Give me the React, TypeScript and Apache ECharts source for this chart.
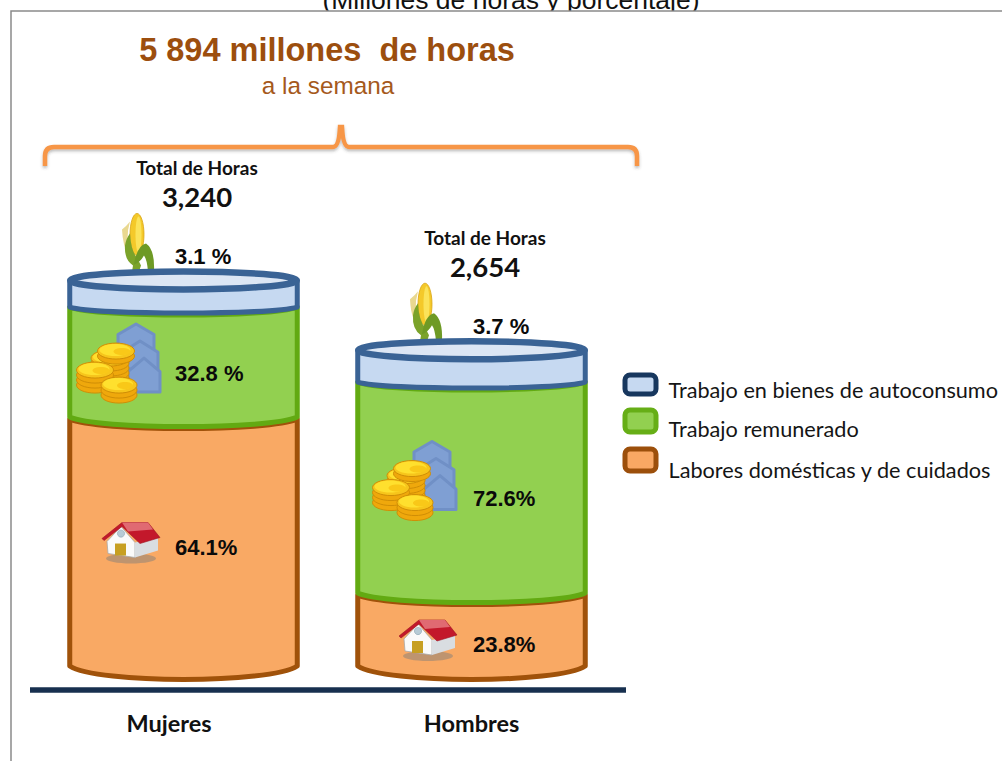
import React, { useEffect, useRef } from "react";
import * as echarts from "echarts";

const categories = ["Mujeres", "Hombres"];
const seriesNames = ["Trabajo en bienes de autoconsumo", "Trabajo remunerado", "Labores domésticas y de cuidados"];
// Heights of the drawn bands (millions of hours on the drawn scale)
const domesticas = [2092, 613];
const remunerado = [924, 1773];
const autoconsumo = [224, 268];
const totals = ["3,240", "2,654"];
const pctDomesticas = ["64.1%", "23.8%"];
const pctRemunerado = ["32.8 %", "72.6%"];
const pctAutoconsumo = ["3.1 %", "3.7 %"];

// Layout offsets for annotations (pixels), not data
const LABEL_DX = [-8.5, 1.5];
const ORANGE_LABEL_DY = [6, 14.5];
const ORANGE_ICON_DY = [0, 9.5];
const ORANGE_ICON_DX = [-52.5, -43.5];
const GREEN_LABEL_DY = [11, 10.5];
const GREEN_ICON_DY = [8, 0];
const GREEN_ICON_DX = [-76.5, -68.5];
const LEGEND_STYLE = [
  { y: 375, h: 19, text: 390, fill: "#C6D9F1", stroke: "#17375E", name: 0 },
  { y: 410, h: 22, text: 429, fill: "#92D050", stroke: "#66AE16", name: 1 },
  { y: 449, h: 22, text: 470, fill: "#F9A864", stroke: "#9C4F0B", name: 2 },
];

const SANS = "'Liberation Sans', Arial, sans-serif";
const LATO = "Lato, 'Open Sans', sans-serif";

const Cmd = echarts.graphic.extendShape({
  type: "cmd",
  shape: { d: "" },
  buildPath(ctx: any, shape: any) {
    const t: string[] = shape.d.match(/[MLCQZ]|-?[\d.]+/g) || [];
    let i = 0;
    const n = () => parseFloat(t[i++]);
    while (i < t.length) {
      const c = t[i++];
      if (c === "M") ctx.moveTo(n(), n());
      else if (c === "L") ctx.lineTo(n(), n());
      else if (c === "Q") { const a = n(), b = n(), e = n(), f = n(); ctx.quadraticCurveTo(a, b, e, f); }
      else if (c === "C") { const a = n(), b = n(), e = n(), f = n(), g = n(), h = n(); ctx.bezierCurveTo(a, b, e, f, g, h); }
      else if (c === "Z") ctx.closePath();
    }
  },
});
echarts.graphic.registerShape("cmd", Cmd);
echarts.graphic.registerShape(
  "bracketShape",
  echarts.graphic.extendPath(
    "M45 166 L45 156 Q45 147 54 147 L333 147 Q339 147 340 127 L342 127 Q343 147 349 147 L628 147 Q637 147 637 156 L637 166",
    {}
  )
);

const arc = (xL: number, xR: number, y: number, d: number) => {
  const w = xR - xL;
  return `C ${xL + 0.12 * w} ${y + 1.33 * d} ${xR - 0.12 * w} ${y + 1.33 * d} ${xR} ${y}`;
};
const arcBack = (xL: number, xR: number, y: number, d: number) => {
  const w = xR - xL;
  return `C ${xR - 0.12 * w} ${y + 1.33 * d} ${xL + 0.12 * w} ${y + 1.33 * d} ${xL} ${y}`;
};

const shape = (d: string, style: any) => ({ type: "cmd", shape: { d }, style });

function coinStack(x: number, y: number, n: number, rx: number, ry: number) {
  const out: any[] = [];
  for (let k = 0; k < n; k++) {
    out.push({
      type: "ellipse",
      shape: { cx: x, cy: y - k * 5, rx, ry },
      style: { fill: k === n - 1 ? "#F7C51B" : "#EFA80C", stroke: "#D08E06", lineWidth: 1 },
    });
  }
  out.push({
    type: "ellipse",
    shape: { cx: x - 1, cy: y - (n - 1) * 5 - 1, rx: rx - 3, ry: ry - 2 },
    style: { fill: "#FFE02E" },
  });
  out.push({
    type: "ellipse",
    shape: { cx: x + 6, cy: y - (n - 1) * 5 + 0.5, rx: rx - 10, ry: ry - 4.5 },
    style: { fill: "#F9C818" },
  });
  return out;
}

function ghostHouse(x: number, y: number, w: number, h: number) {
  const d = `M ${x} ${y} L ${x + w / 2} ${y + h * 0.4} L ${x + w / 2} ${y + h} L ${x - w / 2} ${y + h} L ${x - w / 2} ${y + h * 0.4} Z`;
  return shape(d, { fill: "#7F9FD3", stroke: "#7090C6", lineWidth: 3, lineJoin: "round" });
}

function coinsIcon(x: number, y: number) {
  return {
    type: "group",
    x,
    y,
    children: [
      ghostHouse(29, -46, 36, 26),
      ghostHouse(33, -29, 36, 28),
      ghostHouse(37, -12, 32, 34),
      ...coinStack(3, 8, 5, 19, 8),
      ...coinStack(9, -14, 2, 18.5, 8),
      ...coinStack(-12, 15, 4, 18.5, 8),
      ...coinStack(12, 25, 3, 18, 8),
    ],
  };
}

function houseIcon(x: number, y: number) {
  return {
    type: "group",
    x,
    y,
    children: [
      { type: "ellipse", shape: { cx: 0, cy: 17, rx: 25, ry: 5 }, style: { fill: "#8E8478", opacity: 0.55 } },
      shape("M -24 0 L -10 -15 L 4 1 L 4 16 L -23 12 Z", { fill: "#FAFAFA", stroke: "#A9A9A9", lineWidth: 0.8 }),
      shape("M 4 1 L 27 -4 L 27 9 L 4 16 Z", { fill: "#D9DDE1" }),
      { type: "rect", shape: { x: -16, y: 2, width: 11, height: 12 }, style: { fill: "#C79F22" } },
      { type: "circle", shape: { cx: -10, cy: -8, r: 3.6 }, style: { fill: "#B7CBD6", stroke: "#8CA4B2", lineWidth: 0.6 } },
      shape("M -29 -3 L -9 -19 L 17 -19 L 29 -4 L 9 2 L -9 -15 L -27 -1 Z", { fill: "#C3182B", stroke: "#9E1422", lineWidth: 0.6 }),
      shape("M -9 -19 L 17 -19 L 22 -12 L -3 -10 Z", { fill: "#E06A72" }),
    ],
  };
}

function cornIcon(x: number, y: number) {
  return {
    type: "group",
    x,
    y,
    children: [
      shape("M -15 -42 Q -10 -46 -7 -50 Q -13 -30 -4 -10 Q -14 -20 -15 -42 Z", { fill: "#E9D890" }),
      { type: "ellipse", shape: { cx: 0, cy: -37, rx: 7, ry: 21 }, style: { fill: "#F4C92A", stroke: "#D9A414", lineWidth: 0.8 } },
      { type: "ellipse", shape: { cx: 1.5, cy: -37, rx: 3, ry: 18 }, style: { fill: "#FBE35A" } },
      shape("M -5 0 L -4 -6 Q -13 -12 -12 -26 Q -11 -33 -7 -38 Q -6 -20 0 -14 L 4 -6 L 2 0 Z", { fill: "#7BA32A" }),
      shape("M -3 -7 Q 0 -26 9 -28 Q 18 -22 17 0 L 11 0 Q 10 -12 7 -16 Q 3 -9 -3 -7 Z", { fill: "#6E9A25" }),
    ],
  };
}

function segments(start: number[], end: number[]) {
  return categories.map((_, i) => [i, start[i], end[i]]);
}
const sum = (a: number[], b: number[]) => a.map((v, i) => v + b[i]);
const zeros = categories.map(() => 0);
const domTop = domesticas;
const remTop = sum(domTop, remunerado);
const capTop = sum(remTop, autoconsumo);

const WIDTH_RATIO = 0.79;
const ST = 5;
function bounds(params: any, api: any) {
  const i = api.value(0);
  const p0 = api.coord([i, api.value(1)]);
  const p1 = api.coord([i, api.value(2)]);
  const w = api.size([1, 0])[0] * WIDTH_RATIO;
  return { i, cx: p0[0], yB: p0[1], yT: p1[1], xL: p0[0] - w / 2, xR: p0[0] + w / 2 };
}
const pctText = (text: string, x: number, y: number) => ({
  type: "text",
  z2: 50,
  style: { text, x, y, fill: "#0A0A0A", font: `bold 22px ${SANS}`, textAlign: "left", textVerticalAlign: "middle" },
});

const renderOrange = (params: any, api: any) => {
  const { i, cx, yB, yT, xL, xR } = bounds(params, api);
  const mid = (yB + yT) / 2;
  return {
    type: "group",
    children: [
      shape(`M ${xL} ${yT + 2} L ${xL} ${yB} ${arc(xL, xR, yB, 13.5)} L ${xR} ${yT + 2} ${arcBack(xL, xR, yT + 2, 9.5)} Z`, {
        fill: "#F9A964",
        stroke: "#A0520A",
        lineWidth: ST,
        lineJoin: "round",
      }),
      houseIcon(cx + ORANGE_ICON_DX[i], mid + ORANGE_ICON_DY[i]),
      pctText(pctDomesticas[i], cx + LABEL_DX[i], mid + ORANGE_LABEL_DY[i]),
    ],
  };
};

const renderGreen = (params: any, api: any) => {
  const { i, cx, yB, yT, xL, xR } = bounds(params, api);
  const mid = (yB + yT) / 2;
  return {
    type: "group",
    children: [
      shape(`M ${xL} ${yT} L ${xL} ${yB} ${arc(xL, xR, yB, 9.5)} L ${xR} ${yT} ${arcBack(xL, xR, yT, 8)} Z`, {
        fill: "#92D050",
        stroke: "#62AA12",
        lineWidth: ST,
        lineJoin: "round",
      }),
      coinsIcon(cx + GREEN_ICON_DX[i], mid + GREEN_ICON_DY[i]),
      pctText(pctRemunerado[i], cx + LABEL_DX[i], mid + GREEN_LABEL_DY[i]),
    ],
  };
};

const renderCap = (params: any, api: any) => {
  const { i, cx, yB, yT, xL, xR } = bounds(params, api);
  const rx = (xR - xL) / 2;
  return {
    type: "group",
    children: [
      cornIcon(cx - 46.5, yT - 9),
      shape(`M ${xL} ${yT} L ${xL} ${yB} ${arc(xL, xR, yB, 6)} L ${xR} ${yT} Z`, {
        fill: "#C6D9F1",
        stroke: "#3A6395",
        lineWidth: ST,
        lineJoin: "round",
      }),
      {
        type: "ellipse",
        shape: { cx, cy: yT, rx: rx - 0.5, ry: 9 },
        style: { fill: "#DCE6F4", stroke: "#3A6395", lineWidth: 6.5 },
      },
      pctText(pctAutoconsumo[i], cx + LABEL_DX[i], yT - 24),
      {
        type: "text",
        style: { text: "Total de Horas", x: cx + 13.5, y: yT - 113, fill: "#111", font: `bold 19px ${LATO}`, textAlign: "center", textVerticalAlign: "middle" },
      },
      {
        type: "text",
        style: { text: totals[i], x: cx + 13.5, y: yT - 83.5, fill: "#111", font: `bold 27.5px ${LATO}`, textAlign: "center", textVerticalAlign: "middle" },
      },
    ],
  };
};

export default function App() {
  const ref = useRef<HTMLDivElement>(null);
  useEffect(() => {
    const chart = echarts.init(ref.current!, null, { renderer: "svg" });
    const legendEls: any[] = [];
    LEGEND_STYLE.forEach((l) => {
      legendEls.push({
        type: "rect",
        z: 2,
        shape: { x: 625, y: l.y, width: 31, height: l.h, r: 5 },
        style: { fill: l.fill, stroke: l.stroke, lineWidth: 5 },
      });
      legendEls.push({
        type: "text",
        z: 2,
        style: { text: seriesNames[l.name], x: 668.5, y: l.text, fill: "#151515", font: `21.7px ${LATO}`, textAlign: "left", textVerticalAlign: "middle" },
      });
    });
    chart.setOption({
      animation: false,
      backgroundColor: "#fff",
      tooltip: { show: false },
      grid: { left: 39.5, width: 576, top: 71, height: 595 },
      xAxis: {
        type: "category",
        z: 5,
        data: categories,
        axisLine: { show: false },
        axisTick: { show: false },
        axisLabel: {
          margin: 45,
          formatter: (v: string) => (v === "Mujeres" ? `{m|${v}}` : `{h|${v}}`),
          rich: {
            m: { fontFamily: LATO, fontWeight: "bold", fontSize: 23.5, color: "#111", padding: [0, 29, 0, 0] },
            h: { fontFamily: LATO, fontWeight: "bold", fontSize: 23.5, color: "#111" },
          },
        },
      },
      yAxis: { type: "value", min: 0, max: 5000, show: false },
      series: [
        {
          type: "custom",
          name: seriesNames[2],
          z: 2,
          renderItem: renderOrange,
          encode: { x: 0, y: [1, 2] },
          itemStyle: { color: "#F9A864" },
          data: segments(zeros, domTop),
        },
        {
          type: "custom",
          name: seriesNames[1],
          z: 3,
          renderItem: renderGreen,
          encode: { x: 0, y: [1, 2] },
          itemStyle: { color: "#92D050" },
          data: segments(domTop, remTop),
        },
        {
          type: "custom",
          name: seriesNames[0],
          z: 4,
          renderItem: renderCap,
          encode: { x: 0, y: [1, 2] },
          itemStyle: { color: "#C6D9F1" },
          data: segments(remTop, capTop),
        },
      ],
      graphic: [
        {
          type: "text",
          z: 0,
          style: { text: "(Millones de horas y porcentaje)", x: 511, y: 0, fill: "#111", font: `26.5px ${SANS}`, textAlign: "center", textVerticalAlign: "middle" },
        },
        {
          type: "rect",
          z: 1,
          shape: { x: 11, y: 11, width: 1100, height: 900 },
          style: { fill: "#fff", stroke: "#8A8A8A", lineWidth: 1.5 },
        },
        {
          type: "text",
          z: 2,
          style: { text: "5 894 millones  de horas", x: 327, y: 50, fill: "#9C4E0E", font: `bold 32.5px ${SANS}`, textAlign: "center", textVerticalAlign: "middle" },
        },
        {
          type: "text",
          z: 2,
          style: { text: "a la semana", x: 328, y: 85, fill: "#A5591C", font: `24.3px ${SANS}`, textAlign: "center", textVerticalAlign: "middle" },
        },
        {
          type: "bracketShape",
          z: 2,
          x: 0,
          y: 0,
          style: { fill: "none", stroke: "#F79646", lineWidth: 4.5, shadowBlur: 3, shadowColor: "rgba(60,60,60,0.35)", shadowOffsetY: 2 },
        },
        {
          type: "line",
          z: 2,
          shape: { x1: 30, y1: 690, x2: 626, y2: 690 },
          style: { stroke: "#17304F", lineWidth: 5.5 },
        },
        ...legendEls,
      ],
    });
    return () => chart.dispose();
  }, []);
  return <div ref={ref} style={{ position: "absolute", left: 0, top: 0, width: 1002, height: 761 }} />;
}
